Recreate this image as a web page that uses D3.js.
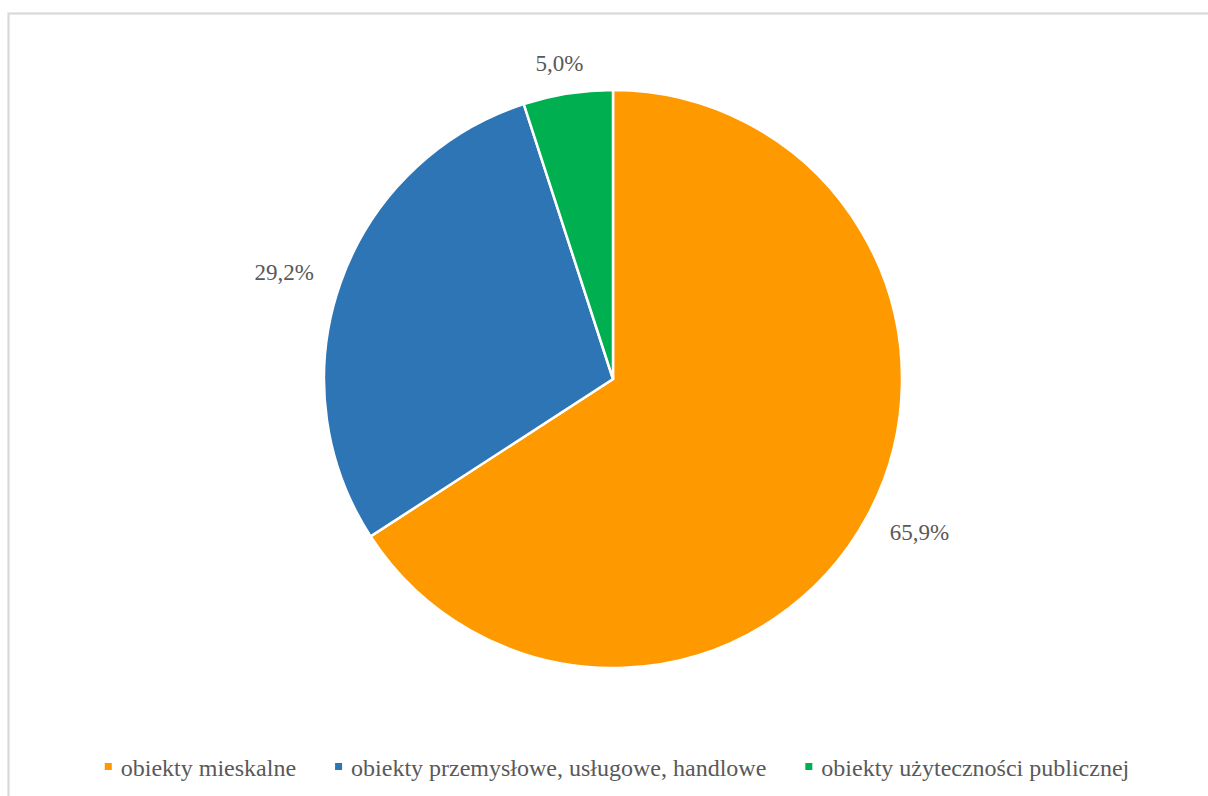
<!DOCTYPE html>
<html>
<head>
<meta charset="utf-8">
<script src="https://cdn.jsdelivr.net/npm/d3@7"></script>
<style>
  body { margin: 0; background: #fff; }
</style>
</head>
<body>
<div id="chart"></div>
<script>
var svgWidth = 1208;
var svgHeight = 796;

// data
var categories = ["obiekty mieskalne", "obiekty przemysłowe, usługowe, handlowe", "obiekty użyteczności publicznej"];
var shares = [65.9, 29.2, 5.0];
var shareLabels = ["65,9%", "29,2%", "5,0%"];
var colors = ["#FF9900", "#2E75B6", "#00B050"];

var fontFamily = "Liberation Serif";
var textColor = "#595959";

var cx = 613, cy = 379, radius = 289;

var svg = d3.select("#chart")
  .append("svg")
  .attr("width", svgWidth)
  .attr("height", svgHeight);

// chart area frame
svg.append("rect")
  .attr("x", 8.5)
  .attr("y", 13.5)
  .attr("width", 1300)
  .attr("height", 900)
  .attr("fill", "none")
  .attr("stroke", "#d9d9d9")
  .attr("stroke-width", 2.2);

var pie = d3.pie().sort(null).value(d => d);
var arcs = pie(shares);
var arc = d3.arc().innerRadius(0).outerRadius(radius);

var pieGroup = svg.append("g")
  .attr("transform", `translate(${cx}, ${cy})`);

pieGroup.selectAll("path")
  .data(arcs)
  .enter()
  .append("path")
  .attr("d", arc)
  .attr("fill", (d, i) => colors[i])
  .attr("stroke", "#fff")
  .attr("stroke-width", 2.5);

// outside end labels
var labelFont = 23;
var gap = 30;
var labels = pieGroup.selectAll(".pct")
  .data(arcs)
  .enter()
  .append("text")
  .attr("class", "pct")
  .attr("font-family", fontFamily)
  .attr("fill", textColor)
  .attr("font-size", labelFont + "px")
  .attr("text-anchor", "middle")
  .text((d, i) => shareLabels[i]);

labels.each(function(d) {
  var t = d3.select(this);
  var w = this.getComputedTextLength();
  var a = (d.startAngle + d.endAngle) / 2;
  var x = (radius + gap + w / 2) * Math.sin(a);
  var y = -(radius + gap + 1) * Math.cos(a);
  t.attr("x", x).attr("y", y + 0.34 * labelFont);
});

// legend
var legendY = 776;
var items = svg.append("g").selectAll("g")
  .data(categories)
  .enter()
  .append("g");

items.append("rect")
  .attr("width", 7)
  .attr("height", 7)
  .attr("y", legendY - 13)
  .attr("fill", (d, i) => colors[i]);

items.append("text")
  .attr("font-family", fontFamily)
  .attr("fill", textColor)
  .attr("font-size", "24px")
  .attr("y", legendY)
  .attr("x", 16)
  .text(d => d);

var xPos = 0;
var offsets = [];
items.each(function() {
  var tw = d3.select(this).select("text").node().getComputedTextLength();
  offsets.push(xPos);
  xPos += 16 + tw + 39;
});
var startX = 617 - (xPos - 39) / 2;
items.attr("transform", (d, i) => `translate(${startX + offsets[i]}, 0)`);
</script>
</body>
</html>
